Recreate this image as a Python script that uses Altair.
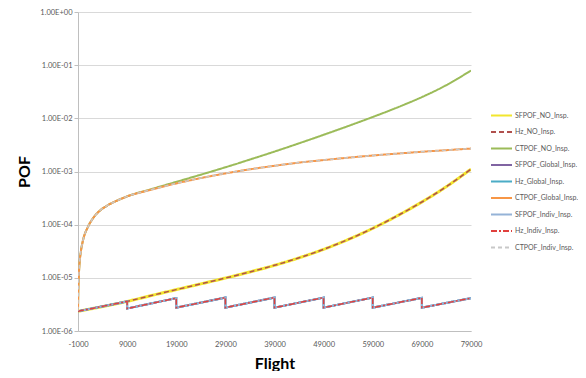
import altair as alt
import pandas as pd

# ---------------- data ----------------
series_names = [
    "SFPOF_NO_Insp.", "Hz_NO_Insp.", "CTPOF_NO_Insp.",
    "SFPOF_Global_Insp.", "Hz_Global_Insp.", "CTPOF_Global_Insp.",
    "SFPOF_Indiv_Insp.", "Hz_Indiv_Insp.", "CTPOF_Indiv_Insp.",
]
series_colors = ["#F2E62E", "#B0504D", "#9BBB59", "#8064A2", "#4BACC6",
                 "#F79646", "#95B3D7", "#E0403D", "#C8C8C8"]
series_dashes = [[1, 0], [5, 3], [1, 0], [1, 0], [1, 0], [1, 0], [1, 0], [6, 2, 2, 2], [4, 3]]
series_widths = [3, 1.5, 2, 2, 2, 2, 2, 1.5, 1.5]
series_smooth = [True, True, True, False, False, True, False, False, True]

x_ticks = [-1000, 9000, 19000, 29000, 39000, 49000, 59000, 69000, 79000]
y_ticks = [1e-6, 1e-5, 1e-4, 1e-3, 1e-2, 1e-1, 1.0]

# no inspection: single flight / hazard
no_x = [-1000, 9000, 14000, 19000, 24000, 29000, 34000, 39000, 44000, 49000,
        54000, 59000, 64000, 69000, 74000, 79000]
sf_no_y = [2.35e-6, 3.6e-6, 4.66e-6, 6.0e-6, 7.69e-6, 9.9e-6, 1.29e-5, 1.72e-5,
           2.38e-5, 3.44e-5, 5.26e-5, 8.53e-5, 1.47e-4, 2.67e-4, 5.2e-4, 1.11e-3]
hz_no_y = [2.35e-6, 3.6e-6, 4.66e-6, 6.0e-6, 7.69e-6, 9.9e-6, 1.29e-5, 1.72e-5,
           2.38e-5, 3.44e-5, 5.26e-5, 8.53e-5, 1.47e-4, 2.67e-4, 5.2e-4, 1.11e-3]

# cumulative curves
ct_x = [-1000, -950, -850, -700, -400, 0, 1000, 2000, 3500, 5000, 7000, 9000, 14000,
        19000, 24000, 29000, 34000, 39000, 44000, 49000, 54000, 59000, 64000,
        69000, 74000, 79000]
ct_no_y = [2.4e-6, 5e-6, 1.0e-5, 1.8e-5, 3.2e-5, 5e-5, 9e-5, 1.3e-4, 1.85e-4,
           2.3e-4, 2.85e-4, 3.4e-4, 4.68e-4, 6.38e-4, 8.71e-4, 1.20e-3, 1.68e-3,
           2.37e-3, 3.39e-3, 4.90e-3, 7.16e-3, 1.06e-2, 1.60e-2, 2.51e-2, 4.22e-2, 7.94e-2]
ct_gl_y = [2.4e-6, 5e-6, 1.0e-5, 1.8e-5, 3.2e-5, 5e-5, 9e-5, 1.3e-4, 1.85e-4,
           2.3e-4, 2.85e-4, 3.4e-4, 4.58e-4, 5.97e-4, 7.52e-4, 9.2e-4, 1.10e-3,
           1.28e-3, 1.47e-3, 1.64e-3, 1.82e-3, 2.0e-3, 2.17e-3, 2.35e-3, 2.52e-3, 2.7e-3]
ct_in_y = [2.4e-6, 5e-6, 1.0e-5, 1.8e-5, 3.2e-5, 5e-5, 9e-5, 1.3e-4, 1.85e-4,
           2.3e-4, 2.85e-4, 3.4e-4, 4.58e-4, 5.97e-4, 7.52e-4, 9.2e-4, 1.10e-3,
           1.28e-3, 1.47e-3, 1.64e-3, 1.82e-3, 2.0e-3, 2.17e-3, 2.35e-3, 2.52e-3, 2.7e-3]

# inspected: sawtooth
saw_x = [-1000, 9000, 9000, 19000, 19000, 29000, 29000, 39000, 39000, 49000,
         49000, 59000, 59000, 69000, 69000, 79000]
sf_gl_y = [2.35e-6, 3.6e-6, 2.65e-6, 4.15e-6, 2.75e-6, 4.25e-6, 2.75e-6, 4.25e-6,
           2.75e-6, 4.25e-6, 2.75e-6, 4.25e-6, 2.75e-6, 4.2e-6, 2.75e-6, 4.15e-6]
hz_gl_y = sf_gl_y
sf_in_y = sf_gl_y
hz_in_y = sf_gl_y

series_data = {
    "SFPOF_NO_Insp.": (no_x, sf_no_y),
    "Hz_NO_Insp.": (no_x, hz_no_y),
    "CTPOF_NO_Insp.": (ct_x, ct_no_y),
    "SFPOF_Global_Insp.": (saw_x, sf_gl_y),
    "Hz_Global_Insp.": (saw_x, hz_gl_y),
    "CTPOF_Global_Insp.": (ct_x, ct_gl_y),
    "SFPOF_Indiv_Insp.": (saw_x, sf_in_y),
    "Hz_Indiv_Insp.": (saw_x, hz_in_y),
    "CTPOF_Indiv_Insp.": (ct_x, ct_in_y),
}

# ---------------- chart ----------------
FONT = "Lato"
W, H = 393, 319

color_scale = alt.Scale(domain=series_names, range=series_colors)
dash_scale = alt.Scale(domain=series_names, range=series_dashes)

x_enc = alt.X(
    "Flight:Q",
    scale=alt.Scale(domain=[-1000, 79000], nice=False, zero=False),
    axis=alt.Axis(
        values=x_ticks, labelExpr="'' + datum.value", grid=False, ticks=False,
        domainColor="#BFBFBF", labelColor="#595959", labelFontSize=7.5,
        labelFont=FONT, labelPadding=9, title="Flight", titleFont=FONT,
        titleFontSize=16, titleFontWeight="bold", titleColor="#000000",
        titleX=W / 2, titleY=37, titleBaseline="alphabetic", titleAlign="center",
        labelFlush=False,
    ),
)
y_enc = alt.Y(
    "POF:Q",
    scale=alt.Scale(type="log", domain=[1e-6, 1.0], nice=False),
    axis=alt.Axis(
        values=y_ticks,
        labelExpr="datum.value >= 1 ? '1.00E+00' : '1.00E-0' + format(-log(datum.value) / LN10, '.0f')",
        grid=True, gridColor="#D9D9D9", domainColor="#BFBFBF", tickColor="#BFBFBF",
        tickSize=4, labelColor="#595959", labelFontSize=7.5, labelFont=FONT,
        labelPadding=2, title="POF", titleFont=FONT, titleFontSize=16,
        titleFontWeight="bold", titleColor="#000000", titleX=-54, titleY=H / 2,
        titleAngle=270, titleBaseline="middle", titleAlign="center", labelFlush=False,
    ),
)

layers = []
for name, w, smooth in zip(series_names, series_widths, series_smooth):
    xs, ys = series_data[name]
    df = pd.DataFrame({"Flight": xs, "POF": ys, "series": name, "i": list(range(len(xs)))})
    mark = alt.Chart(df).mark_line(
        strokeWidth=w, clip=True, interpolate="monotone" if smooth else "linear"
    )
    layers.append(
        mark.encode(
            x=x_enc,
            y=y_enc,
            color=alt.Color("series:N", scale=color_scale, title=None),
            strokeDash=alt.StrokeDash("series:N", scale=dash_scale, title=None),
            order="i:Q",
        )
    )

chart = (
    alt.layer(*layers)
    .properties(
        width=W, height=H,
        autosize=alt.AutoSizeParams(type="none"),
        padding={"left": 70, "top": 4, "right": 107, "bottom": 40},
        background="white",
    )
    .configure_view(stroke=None)
    .configure_legend(
        orient="none", legendX=412, legendY=92, symbolType="stroke",
        symbolSize=441, symbolStrokeWidth=2, labelFont=FONT, labelFontSize=7,
        labelColor="#595959", labelOffset=2, rowPadding=0.5, labelLimit=200,
    )
)

chart.save("out.html", embed_options={"renderer": "svg", "actions": False})
